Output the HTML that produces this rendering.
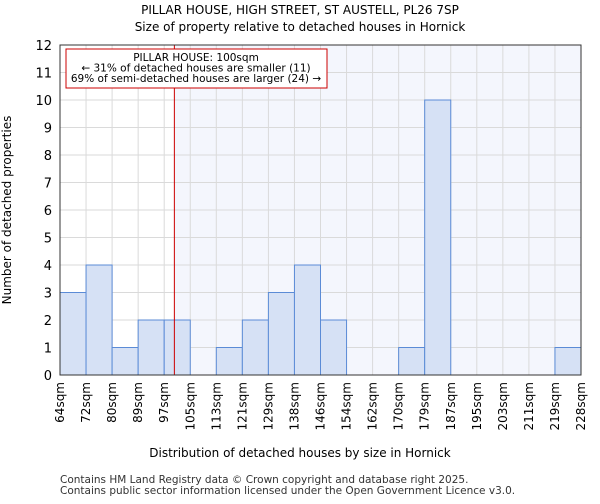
<!DOCTYPE html>
<html><head><meta charset="utf-8"><style>
body{margin:0;background:#fff;font-family:"DejaVu Sans","Liberation Sans",sans-serif;}
</style></head><body>
<svg id="c" width="600" height="500" xmlns="http://www.w3.org/2000/svg" font-family="DejaVu Sans, Liberation Sans, sans-serif">
<text x="300" y="14" text-anchor="middle" font-size="12">PILLAR HOUSE, HIGH STREET, ST AUSTELL, PL26 7SP</text>
<text x="300" y="31" text-anchor="middle" font-size="12">Size of property relative to detached houses in Hornick</text>
<g id="plot"></g>
<text x="300" y="457" text-anchor="middle" font-size="12">Distribution of detached houses by size in Hornick</text>
<text transform="translate(11,210) rotate(-90)" text-anchor="middle" font-size="12">Number of detached properties</text>
<text x="60" y="483" font-size="10.5" fill="#333">Contains HM Land Registry data © Crown copyright and database right 2025.</text>
<text x="60" y="494" font-size="10.5" fill="#333">Contains public sector information licensed under the Open Government Licence v3.0.</text>
</svg>
<script>
const tickLabels=["64sqm","72sqm","80sqm","89sqm","97sqm","105sqm","113sqm","121sqm","129sqm","138sqm","146sqm","154sqm","162sqm","170sqm","179sqm","187sqm","195sqm","203sqm","211sqm","219sqm","228sqm"];
const counts=[3,4,1,2,2,0,1,2,3,4,2,0,0,1,10,0,0,0,0,1];
const binStart=64, binWidth=8.2;
const propertySize=100;
const yTicks=[0,1,2,3,4,5,6,7,8,9,10,11,12];
const NS="http://www.w3.org/2000/svg";
const L=60,R=581,T=45,B=375,yMax=12;
const n=counts.length;
const xb=i=>L+(R-L)*i/n;
const xv=v=>L+(R-L)*(v-binStart)/(binWidth*n);
const y=v=>B-(B-T)*v/yMax;
const g=document.getElementById('plot');
function mk(t,a){const e=document.createElementNS(NS,t);for(const k in a)e.setAttribute(k,a[k]);g.appendChild(e);return e;}
const px=xv(propertySize);
let e=mk('rect',{x:px,y:T,width:R-px,height:B-T,fill:'#f4f6fd'});


for(let i=0;i<=n;i++){e=mk('line',{x1:xb(i),x2:xb(i),y1:T,y2:B,stroke:'#dadada','stroke-width':1});

}
yTicks.forEach(v=>{e=mk('line',{x1:L,x2:R,y1:y(v),y2:y(v),stroke:'#dadada','stroke-width':1});


e=mk('text',{x:L-8,y:y(v)+5,'text-anchor':'end','font-size':13});e.textContent=v;

});
counts.forEach((c,i)=>{if(!c)return;e=mk('rect',{x:xb(i),y:y(c),width:xb(i+1)-xb(i),height:B-y(c),fill:'#d6e1f5',stroke:'#5b8bd6','stroke-width':1});

});
tickLabels.forEach((t,i)=>{const xx=xb(i)+4;e=mk('text',{x:xx,y:382,'text-anchor':'end','font-size':12,transform:`rotate(-90 ${xx} 382)`});e.textContent=t;

});
e=mk('line',{x1:px,x2:px,y1:T,y2:B,stroke:'#cc0000','stroke-width':1});


e=mk('rect',{x:66,y:49,width:261,height:39,fill:'#fff',stroke:'#cc0000','stroke-width':1});


["PILLAR HOUSE: 100sqm","← 31% of detached houses are smaller (11)","69% of semi-detached houses are larger (24) →"].forEach((t,i)=>{e=mk('text',{x:196,y:61+i*10.5,'text-anchor':'middle','font-size':10.5});e.textContent=t;

});
e=mk('rect',{x:L,y:T,width:R-L,height:B-T,fill:'none',stroke:'#333','stroke-width':1});


</script>
</body></html>
